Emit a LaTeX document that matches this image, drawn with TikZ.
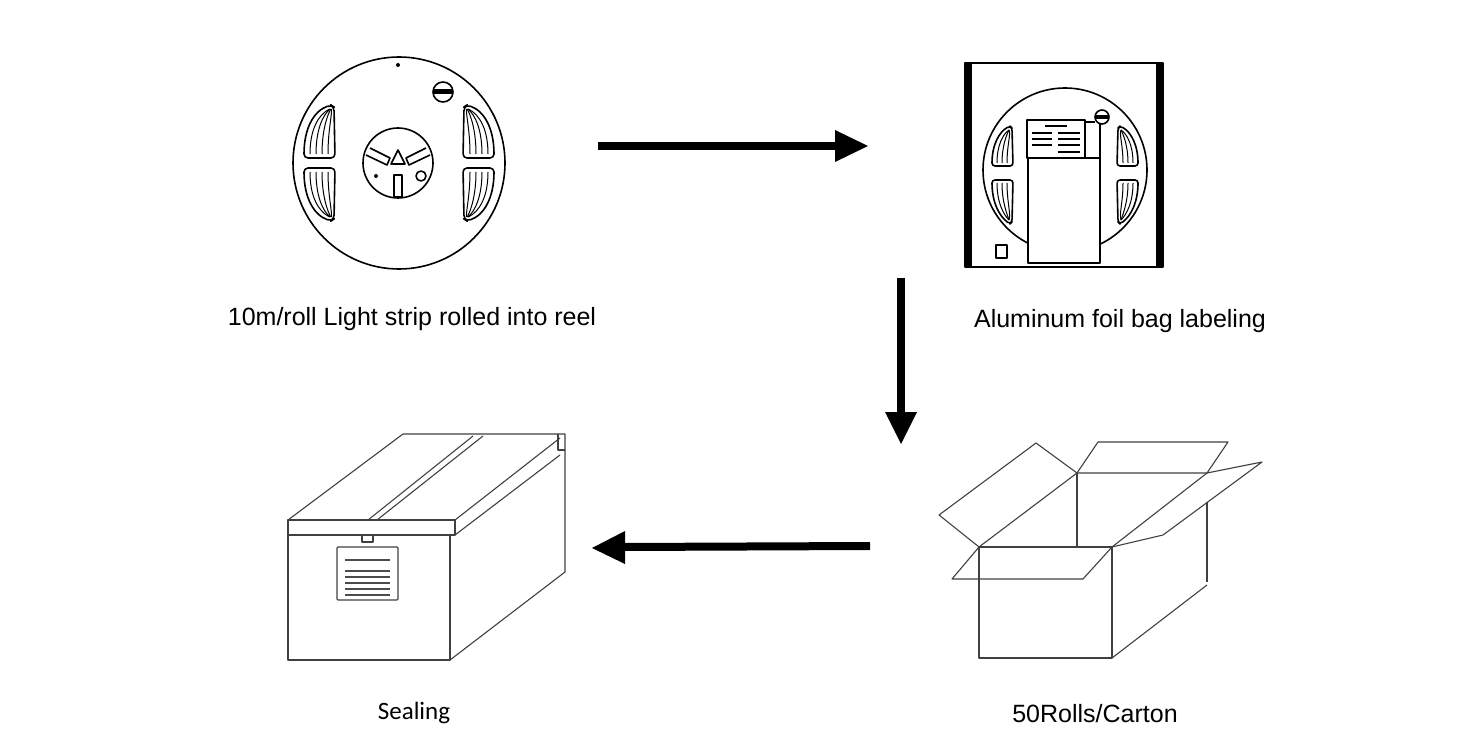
\documentclass[tikz,border=0pt]{standalone}
\usepackage{fontspec}
\newfontfamily\arialf{Liberation Sans}
\newfontfamily\calib{Carlito}
\begin{document}
\begin{tikzpicture}[x=1pt,y=-1pt,line join=round,
  ln/.style={line width=1.6pt},
  thin/.style={line width=1.1pt,draw=black!75},
  arr/.style={line width=8pt},
  head/.style={fill=black},
  lbl/.style={font=\arialf\fontsize{25}{29}\selectfont,anchor=center,inner sep=0}]
\useasboundingbox (0,0) rectangle (1480,735);
% ---------- reel 1
\draw[ln] (399,163) circle (106);
\fill (398,65) circle (2);
\draw[ln] (443,92) circle (10);
\fill (434,89) rectangle (452,94);
\draw[ln] (398,163) circle (35);
\draw[ln] (370,148) -- (390,158) -- (387,165) -- (366,155);
\draw[ln] (426,148) -- (406,158) -- (409,165) -- (430,155);
\draw[ln] (398,150) -- (391,164) -- (405,164) -- cycle;
\draw[ln] (394,175) rectangle (402,197);
\draw[ln] (421,176) circle (5);
\fill (376,176) circle (2);
\foreach \s in {1,-1}{
 \begin{scope}[shift={(399,163)},xscale=\s]
  \draw[ln,rounded corners=4] (-65,-56) -- (-64,-5) -- (-95,-5) .. controls (-95,-35) and (-85,-52) .. (-68,-58) -- cycle;
  \draw[ln,rounded corners=4] (-65,56) -- (-64,5) -- (-95,5) .. controls (-95,35) and (-85,52) .. (-68,58) -- cycle;
  \foreach \d in {6,12,18,24}{
   \draw[line width=1pt] (-95+\d,-9) .. controls (-95+\d,-33) and (-86+0.8*\d,-48) .. (-70+0.1*\d,-54);
   \draw[line width=1pt] (-95+\d,9) .. controls (-95+\d,33) and (-86+0.8*\d,48) .. (-70+0.1*\d,54);
  }
 \end{scope}}
% ---------- bag
\draw[ln] (965,63) rectangle (1163,267);
\fill (965,63) rectangle (972,267);
\fill (1156,63) rectangle (1163,267);
\draw[ln] (1065,170) circle (82);
\foreach \s in {1,-1}{
 \begin{scope}[shift={(1065,170)},xscale=\s]
  \draw[ln,rounded corners=3] (-53,-42) -- (-52,-4) -- (-73,-4) .. controls (-73,-25) and (-66,-38) .. (-55,-44) -- cycle;
  \draw[ln,rounded corners=3] (-53,52) -- (-52,10) -- (-73,10) .. controls (-73,32) and (-66,46) .. (-55,54) -- cycle;
  \foreach \d in {5,10,15}{
   \draw[line width=1pt] (-73+\d,-7) .. controls (-73+\d,-25) and (-66+0.8*\d,-36) .. (-56,-40);
   \draw[line width=1pt] (-73+\d,13) .. controls (-73+\d,32) and (-66+0.8*\d,44) .. (-56,50);
  }
 \end{scope}}
\fill[white] (1028,158) rectangle (1100,263);
\draw[ln] (1028,158) rectangle (1100,263);
\fill[white] (1027,120) rectangle (1085,158);
\draw[ln] (1027,120) rectangle (1085,158);
\draw[ln] (1085,122) -- (1095,122);
\draw[ln] (1100,158) -- (1100,124);
\fill[white] (1102,117) circle (7);
\draw[ln] (1102,117) circle (7);
\fill (1095,115) rectangle (1109,119);
\foreach \y/\a/\b in {126/1045/1067,133/1032/1052,139/1032/1052,145/1032/1052,133/1058/1080,139/1058/1080,145/1058/1080,152/1058/1080}
  \draw[line width=1.3pt] (\a,\y) -- (\b,\y);
\draw[ln] (996,245) rectangle (1007,258);
% ---------- sealing box
\draw[thin] (288,535) rectangle (450,660);
\draw[thin] (288,520) -- (455,520) -- (455,535) -- (288,535) -- cycle;
\draw[thin] (288,520) -- (403,434) -- (565,434) -- (565,572) -- (450,660);
\draw[thin] (455,520) -- (560,438);
\draw[thin] (455,535) -- (560,455);
\draw[thin] (368,520) -- (473,436);
\draw[thin] (377,520) -- (483,436);
\draw[thin] (558,434) -- (558,450) -- (565,450);
\draw[thin] (362,535) rectangle (373,542);
\draw[thin,rounded corners=1] (337,547) rectangle (398,600);
\foreach \y in {560,571,577,583,589,595}
  \draw[line width=1.2pt,draw=black!70] (345,\y) -- (390,\y);
% ---------- open carton
\draw[thin] (979,547) rectangle (1112,658);
\draw[thin] (1112,547) -- (1207,473);
\draw[thin] (1207,502) -- (1207,582);
\draw[thin] (1112,658) -- (1207,585);
\draw[thin] (979,547) -- (1077,473) -- (1207,473);
\draw[thin] (1077,473) -- (1077,547);
\draw[thin] (979,547) -- (939,515) -- (1036,443) -- (1077,473);
\draw[thin] (1077,473) -- (1098,442) -- (1228,442) -- (1207,473);
\draw[thin] (1207,473) -- (1262,462) -- (1163,535) -- (1112,547);
\draw[thin] (979,547) -- (952,579) -- (1083,579) -- (1112,547);
% ---------- arrows
\coordinate (a1s) at (598,146); \coordinate (a1e) at (838,146);
\draw[arr] (a1s) -- (a1e);
\fill[head] (835,130) -- (868,146) -- (835,162) -- cycle;
\coordinate (a2s) at (901,278); \coordinate (a2e) at (901,415);
\draw[arr] (a2s) -- (a2e);
\fill[head] (885,412) -- (901,444) -- (917,412) -- cycle;
\coordinate (a3s) at (870,546); \coordinate (a3e) at (622,547);
\draw[arr] (a3s) -- (a3e);
\fill[head] (625,531) -- (592,548) -- (625,564) -- cycle;
% ---------- labels
\node[lbl] (t1) at (412,319) {10m/roll Light strip rolled into reel};
\node[lbl] (t2) at (1120,321) {Aluminum foil bag labeling};
\node[lbl,font=\calib\fontsize{25}{29}\selectfont] (t3) at (414,713) {Sealing};
\node[lbl] (t4) at (1095,714) {50Rolls/Carton};
\end{tikzpicture}
\end{document}
